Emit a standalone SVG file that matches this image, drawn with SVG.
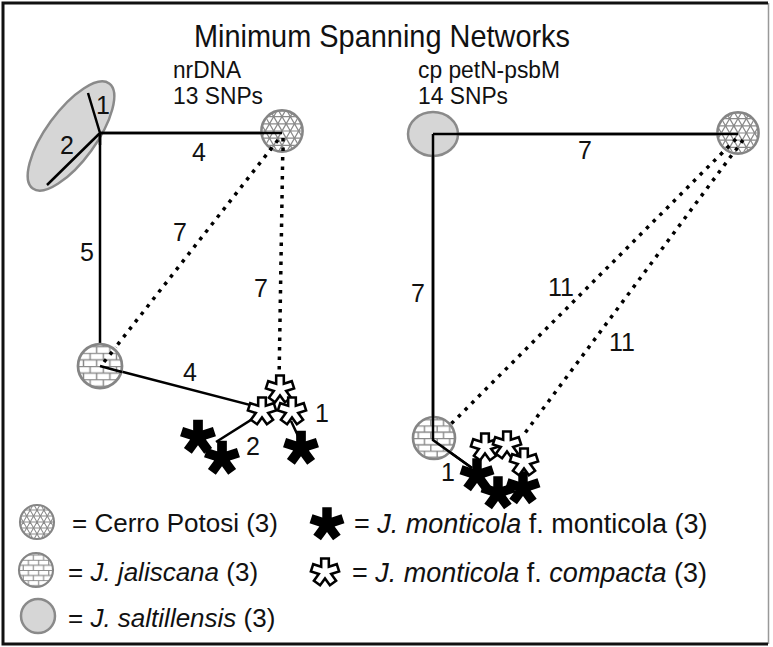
<svg xmlns="http://www.w3.org/2000/svg" xmlns:xlink="http://www.w3.org/1999/xlink" width="773" height="647" viewBox="0 0 773 647">
<style>
text{font-family:"Liberation Sans",Arial,sans-serif;fill:#111}
.title{font-size:32px}
.sub{font-size:23px}
.lbl{font-size:25px}
.leg{font-size:26px}
.legr{font-size:27px}
.it{font-style:italic}
.solid{stroke:#000;stroke-width:2.5;fill:none}
.dot{stroke:#000;stroke-width:3.5;fill:none;stroke-dasharray:3.5 6}
.blk{fill:#000}
.wht{fill:#fff;stroke:#000;stroke-width:3;stroke-linejoin:miter}
.salt{fill:#d6d6d6;stroke:#8a8a8a;stroke-width:2.5}
</style>
<defs>
<clipPath id="cc"><circle r="19"/></clipPath>
<pattern id="brick" patternUnits="userSpaceOnUse" width="12" height="12">
<path d="M0,0.5H12M0,6.5H12M3,0.5V6.5M9,6.5V12.5" stroke="#8a8a8a" stroke-width="1.3" fill="none"/>
</pattern>
<g id="cerro">
<circle r="20" fill="#fff"/>
<g clip-path="url(#cc)" stroke="#8a8a8a" stroke-width="1.2" fill="none">
<path d="M-22,-14H22M-22,-7H22M-22,0H22M-22,7H22M-22,14H22M23.12,12.05L1.12,-26.05M17.06,15.55L-4.94,-22.55M11,19.05L-11,-19.05M4.94,22.55L-17.06,-15.55M-1.12,26.05L-23.12,-12.05M1.12,26.05L23.12,-12.05M-4.94,22.55L17.06,-15.55M-11,19.05L11,-19.05M-17.06,15.55L4.94,-22.55M-23.12,12.05L-1.12,-26.05"/>
</g>
<circle r="20" fill="none" stroke="#858585" stroke-width="2.5"/>
</g>
<g id="jal">
<circle r="20" fill="#fff"/>
<circle r="20" fill="url(#brick)" stroke="#858585" stroke-width="2.5"/>
</g>
<path id="star" d="M-4.5,-16H4.5V-6.19L13.83,-9.22L16.61,-0.66L7.28,2.37L13.05,10.3L5.76,15.59L0,7.66L-5.76,15.59L-13.05,10.3L-7.28,2.37L-16.61,-0.66L-13.83,-9.22L-4.5,-6.19Z"/>
</defs>
<rect x="0" y="0" width="773" height="647" fill="#fff"/>
<path d="M768.5,3V644" stroke="#999" stroke-width="1.5" fill="none"/>
<path d="M768,3H3V644H768" stroke="#111" stroke-width="3" fill="none"/>

<text class="title" x="382" y="47" text-anchor="middle" textLength="376" lengthAdjust="spacingAndGlyphs">Minimum Spanning Networks</text>
<text class="sub" x="173" y="78" textLength="68" lengthAdjust="spacingAndGlyphs">nrDNA</text>
<text class="sub" x="173" y="104" textLength="90" lengthAdjust="spacingAndGlyphs">13 SNPs</text>
<text class="sub" x="418" y="78" textLength="142" lengthAdjust="spacingAndGlyphs">cp petN-psbM</text>
<text class="sub" x="418" y="104" textLength="90" lengthAdjust="spacingAndGlyphs">14 SNPs</text>

<g id="n-salt-left"><ellipse class="salt" cx="71" cy="136" rx="65" ry="25" transform="rotate(-54 71 136)"/></g>

<g id="connectors">
<path class="solid" d="M100,133L88,93M100,133L47,185M100,133H282M100,133V366L258,407M262,413L216,442M291,421L299,438"/>
<path class="dot" d="M278,140L104,362M283,138L279,382"/>
<path class="solid" d="M433,134H738M433,134V440L472,468"/>
<path class="dot" d="M736,139L442,433M743,140L522,437"/>
</g>

<g id="n-cerro-left"><use xlink:href="#cerro" transform="translate(282,131) scale(1.03)"/></g>
<g id="n-jal-left"><use xlink:href="#jal" transform="translate(100,366) scale(1.1)"/></g>
<g id="n-salt-right"><ellipse class="salt" cx="433" cy="134" rx="25" ry="22"/></g>
<g id="n-cerro-right"><use xlink:href="#cerro" transform="translate(738,133) scale(1.03)"/></g>
<g id="n-jal-right"><use xlink:href="#jal" transform="translate(434,438) scale(1.05)"/></g>

<g id="connector-ends">
<path class="solid" d="M100,133H282M433,134H738M433,134V440L472,468M100,366L122,372M100,133V145"/>
<path class="dot" d="M736,139L722,153M743,140L733,154M278,140L266,155M283,138V152M104,362L116,347"/>
</g>

<g id="n-mont-left">
<use xlink:href="#star" class="blk" transform="translate(198,437) scale(1.08)"/>
<use xlink:href="#star" class="blk" transform="translate(222,458) scale(1.08)"/>
<use xlink:href="#star" class="blk" transform="translate(301,448) scale(1.08)"/>
</g>
<g id="n-comp-left">
<use xlink:href="#star" class="wht" transform="translate(280,389) scale(0.85)"/>
<use xlink:href="#star" class="wht" transform="translate(262,411) scale(0.85)"/>
<use xlink:href="#star" class="wht" transform="translate(292,411) scale(0.85)"/>
</g>
<g id="n-mont-right">
<use xlink:href="#star" class="blk" transform="translate(477,475) scale(1.05)"/>
<use xlink:href="#star" class="blk" transform="translate(523,488) scale(1.05)"/>
<use xlink:href="#star" class="blk" transform="translate(498,493) scale(1.05)"/>
</g>
<g id="n-comp-right">
<use xlink:href="#star" class="wht" transform="translate(485,447) scale(0.85)"/>
<use xlink:href="#star" class="wht" transform="translate(507,445) scale(0.85)"/>
<use xlink:href="#star" class="wht" transform="translate(524,462) scale(0.85)"/>
</g>

<g id="labels">
<text class="lbl" x="103" y="114" text-anchor="middle">1</text>
<text class="lbl" x="67" y="154" text-anchor="middle">2</text>
<text class="lbl" x="199" y="161" text-anchor="middle">4</text>
<text class="lbl" x="87" y="261" text-anchor="middle">5</text>
<text class="lbl" x="180" y="241" text-anchor="middle">7</text>
<text class="lbl" x="261" y="297" text-anchor="middle">7</text>
<text class="lbl" x="190" y="381" text-anchor="middle">4</text>
<text class="lbl" x="322" y="422" text-anchor="middle">1</text>
<text class="lbl" x="253" y="455" text-anchor="middle">2</text>
<text class="lbl" x="585" y="159" text-anchor="middle">7</text>
<text class="lbl" x="418" y="302" text-anchor="middle">7</text>
<text class="lbl" x="561" y="296" text-anchor="middle">11</text>
<text class="lbl" x="622" y="351" text-anchor="middle">11</text>
<text class="lbl" x="448" y="481" text-anchor="middle">1</text>
</g>

<g id="legend">
<use xlink:href="#cerro" transform="translate(37,522) scale(0.85)"/>
<text class="leg" x="72" y="532">= Cerro Potosi (3)</text>
<use xlink:href="#jal" transform="translate(36,570) scale(0.85)"/>
<text class="leg" x="68" y="581">= <tspan class="it">J. jaliscana</tspan> (3)</text>
<circle class="salt" cx="38" cy="616" r="17"/>
<text class="leg" x="68" y="627">= <tspan class="it">J. saltillensis</tspan> (3)</text>
<use xlink:href="#star" class="blk" transform="translate(327,524) scale(1.05)"/>
<text class="legr" x="354" y="533">= <tspan class="it">J. monticola</tspan> f. monticola (3)</text>
<use xlink:href="#star" class="wht" transform="translate(325,572) scale(0.85)"/>
<text class="legr" x="352" y="582">= <tspan class="it">J. monticola</tspan> f. <tspan class="it">compacta</tspan> (3)</text>
</g>
</svg>
